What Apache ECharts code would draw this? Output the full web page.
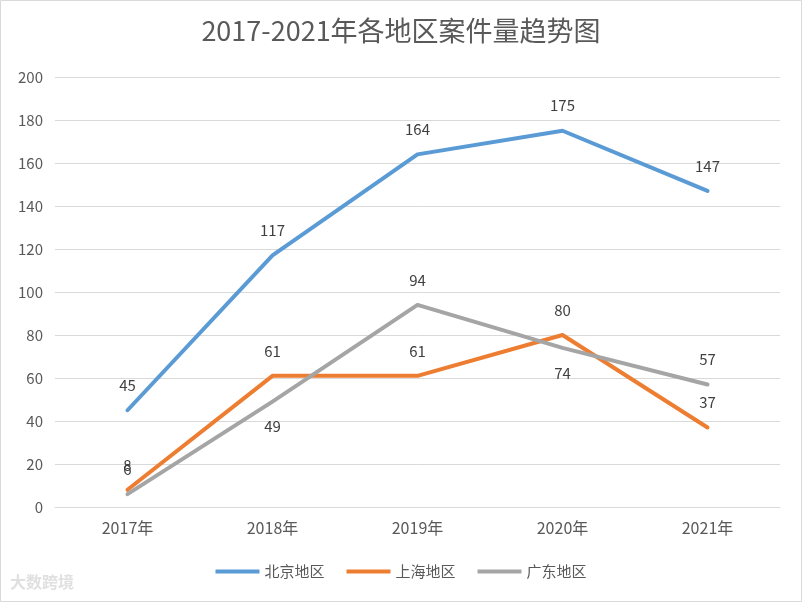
<!DOCTYPE html>
<html><head><meta charset="utf-8">
<script src="https://cdn.jsdelivr.net/npm/echarts@6/dist/echarts.min.js"></script>
<style>html,body{margin:0;padding:0;background:#fff}#c{width:802px;height:602px}</style>
</head><body><div id="c"></div>
<script>
const categories = ['2017年','2018年','2019年','2020年','2021年'];
const beijing = [45,117,164,175,147];
const shanghai = [8,61,61,80,37];
const guangdong = [6,49,94,74,57];
const seriesNames = ['北京地区','上海地区','广东地区'];
const gdLabelPos = ['top','bottom','top','bottom','top'];

const font = '"Noto Sans CJK SC", "Liberation Sans", sans-serif';
const chart = echarts.init(document.getElementById('c'));
function mk(name, vals, color, positions){
  return {
    name, type:'line', data: vals.map((v,i)=>({value:v, label:{position: positions ? positions[i] : 'top'}})),
    symbol:'circle', symbolSize:1, showSymbol:true,
    lineStyle:{width:4, color, cap:'round', join:'round'}, itemStyle:{color},
    label:{show:true, distance:17, fontSize:15, color:'#404040', fontFamily:font},
    labelLayout:{hideOverlap:false},
    emphasis:{disabled:true}
  };
}
chart.setOption({
  animation:false,
  title:{text:'2017-2021年各地区案件量趋势图', left:'center', top:12,
    textStyle:{fontSize:27, fontWeight:'normal', color:'#595959', fontFamily:font}},
  grid:{left:55, right:22, top:77, bottom:95},
  legend:{bottom:18, left:'center', icon:'rect', itemWidth:44, itemHeight:4, itemGap:22,
    textStyle:{fontSize:15, color:'#595959', fontFamily:font}},
  xAxis:{type:'category', data:categories, boundaryGap:true,
    axisLine:{lineStyle:{color:'#d9d9d9'}}, axisTick:{show:false},
    axisLabel:{fontSize:16, color:'#595959', margin:13, fontFamily:font}},
  yAxis:{type:'value', min:0, max:200, interval:20,
    axisLine:{show:false}, axisTick:{show:false},
    splitLine:{lineStyle:{color:'#d9d9d9', width:1}},
    axisLabel:{fontSize:15, color:'#595959', margin:12, fontFamily:font}},
  series:[
    mk(seriesNames[0], beijing, '#5b9bd5'),
    mk(seriesNames[1], shanghai, '#ed7d31'),
    mk(seriesNames[2], guangdong, '#a5a5a5', gdLabelPos)
  ],
  graphic:[
    {type:'rect', shape:{x:0.5,y:0.5,width:801,height:601}, style:{fill:'none', stroke:'#d9d9d9', lineWidth:1}, silent:true},
    {type:'text', left:10, top:574, style:{text:'大数跨境', fontSize:16, fontWeight:'bold', fill:'#e0e0e0', fontFamily:font}, silent:true}
  ]
});
</script></body></html>
